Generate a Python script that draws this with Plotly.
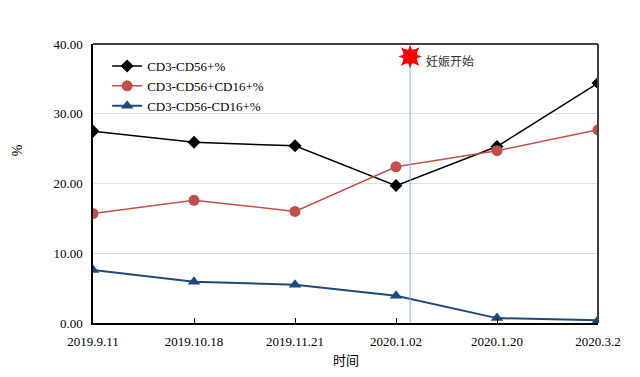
import plotly.graph_objects as go

categories = ["2019.9.11", "2019.10.18", "2019.11.21", "2020.1.02", "2020.1.20", "2020.3.2"]
cd56 = [27.5, 25.9, 25.4, 19.7, 25.3, 34.4]
cd56_cd16pos = [15.7, 17.6, 16.0, 22.4, 24.7, 27.7]
cd56_cd16neg = [7.6, 5.9, 5.5, 3.9, 0.7, 0.4]
series_names = ["CD3-CD56+%", "CD3-CD56+CD16+%", "CD3-CD56-CD16+%"]
pregnancy_x = 3.14
pregnancy_label = "妊娠开始"
y_ticks = [0, 10, 20, 30, 40]
x_title = "时间"
y_title = "%"

xi = list(range(len(categories)))
serif = "Liberation Serif, Times New Roman, serif"
cjk = "Noto Sans CJK SC, sans-serif"

fig = go.Figure()
fig.add_trace(go.Scatter(x=xi, y=cd56, name=series_names[0], mode="lines+markers",
                         line=dict(color="#000000", width=1.5),
                         marker=dict(symbol="diamond", size=10, color="#000000")))
fig.add_trace(go.Scatter(x=xi, y=cd56_cd16pos, name=series_names[1], mode="lines+markers",
                         line=dict(color="#c0504d", width=1.5),
                         marker=dict(symbol="circle", size=11, color="#c0504d")))
fig.add_trace(go.Scatter(x=xi, y=cd56_cd16neg, name=series_names[2], mode="lines+markers",
                         line=dict(color="#1f497d", width=2),
                         marker=dict(symbol="triangle-up", size=11, color="#1f497d")))

# pregnancy start marker line
fig.add_trace(go.Scatter(x=[pregnancy_x, pregnancy_x], y=[-0.3, 38.2], mode="lines",
                         line=dict(color="#8db3e2", width=1), showlegend=False, hoverinfo="skip",
                         cliponaxis=False))
for sym in ["star-square", "star-diamond"]:
    fig.add_trace(go.Scatter(x=[pregnancy_x], y=[38.2], mode="markers", showlegend=False,
                             marker=dict(symbol=sym, size=17, color="#ff0000", line=dict(width=0)),
                             hoverinfo="skip"))
fig.add_annotation(x=pregnancy_x, y=37.6, xref="x", yref="y", text=pregnancy_label,
                   showarrow=False, xanchor="left", xshift=14,
                   font=dict(family=cjk, size=12, color="#333333"))

# axis titles
fig.add_annotation(x=0.5, y=-0.088, xref="paper", yref="paper", text=x_title, showarrow=False,
                   xanchor="center", yanchor="top", font=dict(family=cjk, size=13, color="#000000"))
fig.add_annotation(x=-0.15, y=0.62, xref="paper", yref="paper", text=y_title, showarrow=False,
                   textangle=-90, xanchor="center", yanchor="middle",
                   font=dict(family=serif, size=14, color="#000000"))

fig.update_layout(
    width=640, height=377,
    margin=dict(l=85, r=50, t=36, b=62),
    paper_bgcolor="white", plot_bgcolor="white",
    font=dict(family=serif, size=13, color="#000000"),
    legend=dict(x=0.028, y=0.975, xanchor="left", yanchor="top",
                bgcolor="rgba(0,0,0,0)", font=dict(family=serif, size=13),
                itemwidth=30, tracegroupgap=0),
    showlegend=True,
)
fig.update_xaxes(range=[0, 5], tickmode="array", tickvals=xi, ticktext=categories,
                 showgrid=False, zeroline=False, automargin=False,
                 showline=True, linecolor="#000000", linewidth=1.5, mirror=False,
                 ticks="inside", ticklen=5, tickcolor="#000000",
                 ticklabelstandoff=6,
                 tickfont=dict(family=serif, size=13))
fig.update_yaxes(range=[0, 40], tickvals=y_ticks, tickformat=".2f",
                 showgrid=True, gridcolor="#e0e0e0", gridwidth=1, zeroline=False,
                 automargin=False,
                 showline=True, linecolor="#000000", linewidth=1.5,
                 ticks="", ticklabelstandoff=6,
                 tickfont=dict(family=serif, size=13))
# top and right border
fig.add_shape(type="line", xref="paper", yref="paper", x0=0, x1=1, y0=1, y1=1,
              line=dict(color="#404040", width=2))
fig.add_shape(type="line", xref="paper", yref="paper", x0=1, x1=1, y0=0, y1=1,
              line=dict(color="#404040", width=2))

fig.write_html("out.html")
